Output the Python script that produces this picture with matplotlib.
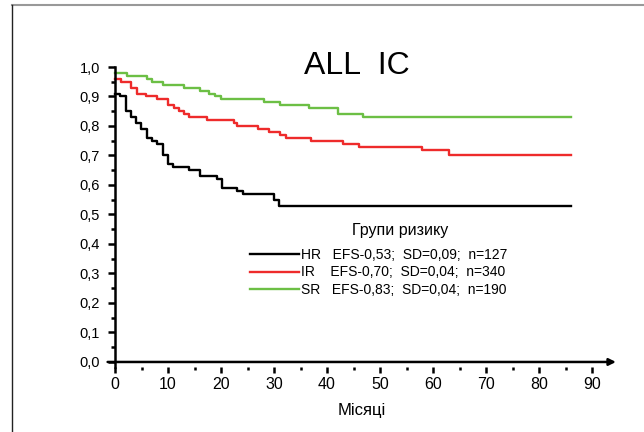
import matplotlib
matplotlib.use('Agg')
import matplotlib.pyplot as plt
from matplotlib.lines import Line2D
from matplotlib.ticker import MultipleLocator, FixedLocator

plt.rcParams['font.family'] = ['Liberation Sans', 'DejaVu Sans']

# Kaplan-Meier steps (months, EFS)
hr_t = [0, 0.9, 2, 3, 4, 4.9, 6, 6.9, 7.9, 9.1, 9.9, 11, 14, 16, 19.2, 20.1, 23, 24.1, 30, 31, 86]
hr_s = [0.91, 0.90, 0.85, 0.83, 0.81, 0.79, 0.76, 0.75, 0.74, 0.70, 0.67, 0.66, 0.65, 0.63, 0.62,
        0.59, 0.58, 0.57, 0.55, 0.53, 0.53]
ir_t = [0, 1.1, 3, 4.1, 5.8, 8, 10, 11.2, 12, 13, 14, 17.3, 22.5, 23, 27, 29, 31.2, 32.3, 37, 43,
        46, 58, 63, 86]
ir_s = [0.96, 0.95, 0.93, 0.91, 0.90, 0.89, 0.87, 0.86, 0.85, 0.84, 0.83, 0.82, 0.81, 0.80, 0.79,
        0.78, 0.77, 0.76, 0.75, 0.74, 0.73, 0.72, 0.70, 0.70]
sr_t = [0, 2.2, 6, 7, 9, 13, 16, 17.7, 18.9, 20, 28.1, 31.1, 36.6, 42, 46.8, 86]
sr_s = [0.98, 0.97, 0.96, 0.95, 0.94, 0.93, 0.92, 0.91, 0.90, 0.89, 0.88, 0.87, 0.86, 0.84, 0.83, 0.83]

labels = ['HR   EFS-0,53;  SD=0,09;  n=127',
          'IR    EFS-0,70;  SD=0,04;  n=340',
          'SR   EFS-0,83;  SD=0,04;  n=190']
colors = ['black', '#ee2b2b', '#6cbf45']
yticks = [0.0, 0.1, 0.2, 0.3, 0.4, 0.5, 0.6, 0.7, 0.8, 0.9, 1.0]
xticks = [0, 10, 20, 30, 40, 50, 60, 70, 80, 90]

fig = plt.figure(figsize=(6.44, 4.32), dpi=100)
ax = fig.add_axes([0.1671, 0.1505, 0.7893, 0.6944])

for t, s, c, lab in zip([hr_t, ir_t, sr_t], [hr_s, ir_s, sr_s], colors, labels):
    ax.step(t, s, where='post', color=c, lw=1.7, label=lab)

ax.set_xlim(-1.4, 94.5)
ax.set_ylim(-0.017, 1.0)
for sp in ['top', 'right', 'bottom']:
    ax.spines[sp].set_visible(False)
ax.spines['left'].set_linewidth(1.8)
ax.spines['left'].set_position(('data', 0))
ax.spines['left'].set_bounds(-0.017, 1.0)

# x axis with arrow
ax.annotate('', xy=(1.0, 0), xytext=(0.0, 0), xycoords=('axes fraction', 'data'),
            textcoords=('axes fraction', 'data'),
            arrowprops=dict(arrowstyle='-|>', lw=1.8, color='black', mutation_scale=10,
                            shrinkA=0, shrinkB=0))

ax.set_yticks(yticks)
ax.set_yticklabels([('%.1f' % v).replace('.', ',') for v in yticks])
ax.yaxis.set_minor_locator(MultipleLocator(0.05))
ax.set_xticks(xticks)
ax.set_xticklabels([str(v) for v in xticks])
ax.xaxis.set_minor_locator(FixedLocator([5, 15, 25, 35, 45, 55, 65, 75, 85]))
ax.tick_params(axis='y', which='major', length=5, width=1.8, labelsize=10.5, pad=6)
ax.tick_params(axis='y', which='minor', length=3, width=1.8)
ax.tick_params(axis='x', which='major', length=4, width=1.8, labelsize=11.5, pad=3)
ax.tick_params(axis='x', which='minor', length=2.5, width=1.8)
ax.set_xlabel('Місяці', fontsize=12, labelpad=8)

fig.text(357 / 644, 1 - 66 / 432, 'ALL  IC', fontsize=23, ha='center', va='center')
fig.text(400 / 644, 1 - 231 / 432, 'Групи ризику', fontsize=11.5, ha='center', va='center')

ax.legend(loc='upper left', bbox_to_anchor=(250 / 644, 1 - 248 / 432),
          bbox_transform=fig.transFigure, frameon=False, borderpad=0, borderaxespad=0,
          handlelength=3.5, handletextpad=0.15, labelspacing=0.25, fontsize=10)

# page frame
fig.add_artist(Line2D([12 / 644, 1.0], [1 - 5 / 432, 1 - 5 / 432], color='#999999', lw=1.5))
fig.add_artist(Line2D([12 / 644, 12 / 644], [0, 1 - 5 / 432], color='#222222', lw=1.0))

fig.savefig('out.png', dpi=100)
